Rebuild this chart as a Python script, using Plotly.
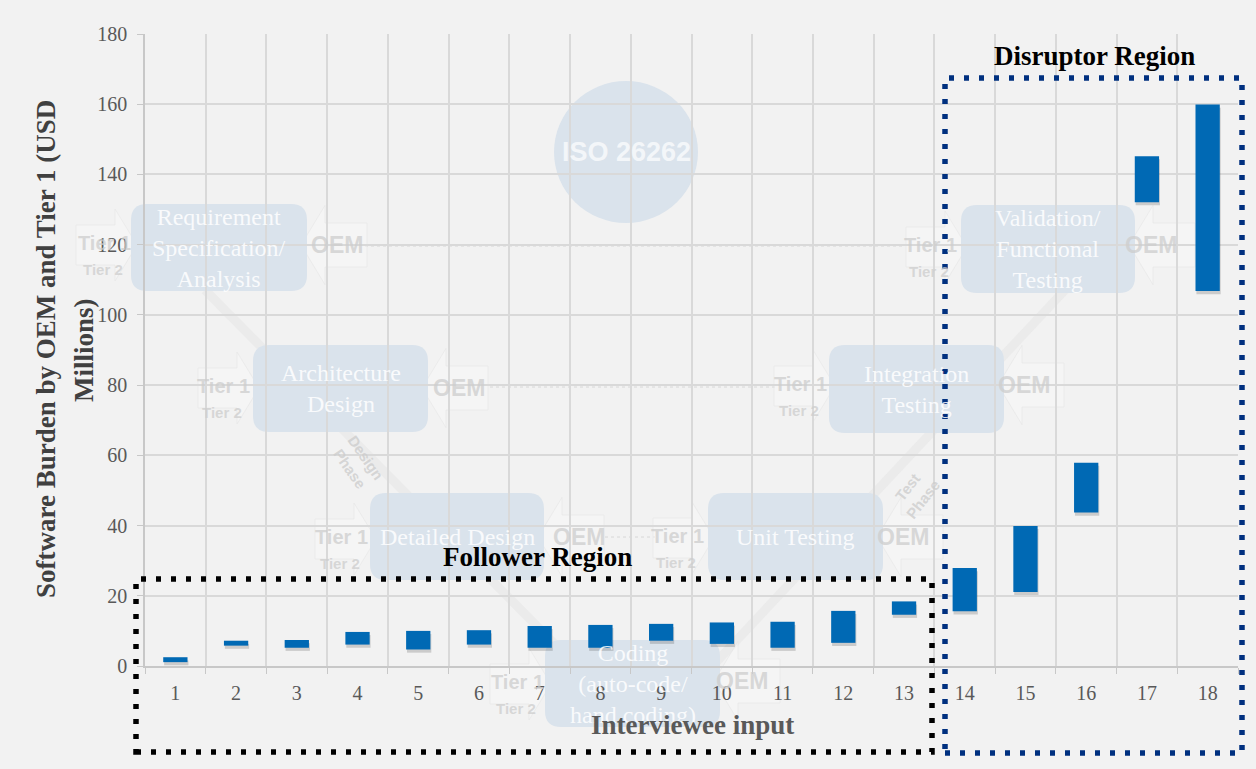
import plotly.graph_objects as go

# ---- data ----
interviewees = [str(i) for i in range(1, 19)]
burden_low = [1.1, 5.8, 5.2, 6.1, 4.7, 6.1, 5.2, 5.2, 7.2, 6.3, 5.2, 6.6, 14.6, 15.6, 21.1, 43.7, 132.1, 106.8]
burden_high = [2.5, 7.2, 7.4, 9.7, 10.0, 10.2, 11.4, 11.7, 12.0, 12.4, 12.6, 15.7, 18.4, 27.9, 39.9, 57.9, 145.2, 159.9]
y_ticks = list(range(0, 181, 20))

W, H = 1256, 769
ML, MR, MT, MB = 145, 18, 34, 103
PW, PH = W - ML - MR, H - MT - MB


def PX(x):
    return (x - ML) / PW


def PY(y):
    return (H - MB - y) / PH


BG = "#F2F2F2"
BOX = "rgb(218,227,236)"
FAINT = "rgba(205,205,205,0.75)"
SERIF = "Liberation Serif, Times New Roman, serif"
SANS = "Liberation Sans, Arial, sans-serif"

heights = [h - l for l, h in zip(burden_low, burden_high)]
shadow_base = [l - 0.9 for l in burden_low]

fig = go.Figure()
fig.add_trace(go.Bar(x=interviewees, y=heights, base=shadow_base, width=0.4, offset=-0.185,
                     marker=dict(color="rgba(0,0,0,0.16)", line=dict(width=0)),
                     hoverinfo="skip", showlegend=False))
fig.add_trace(go.Bar(x=interviewees, y=heights, base=burden_low, width=0.4, offset=-0.2,
                     marker=dict(color="#0069B4", line=dict(width=0)),
                     showlegend=False))

shapes = []
annots = []


def rrect(x0, y0, x1, y1, r, fill):
    rx, ry = r / PW, r / PH
    a, b, c, d = PX(x0), PY(y1), PX(x1), PY(y0)
    p = (f"M {a+rx},{d} L {c-rx},{d} Q {c},{d} {c},{d-ry} L {c},{b+ry} Q {c},{b} {c-rx},{b} "
         f"L {a+rx},{b} Q {a},{b} {a},{b+ry} L {a},{d-ry} Q {a},{d} {a+rx},{d} Z")
    shapes.append(dict(type="path", path=p, xref="paper", yref="paper", fillcolor=fill,
                       line=dict(width=0), layer="below"))


def arrow(x_tail, x_tip, yc, half, head, fill, direction=1):
    xb = x_tip - direction * head
    pts = [(x_tail, yc - half), (xb, yc - half), (xb, yc - half * 1.8), (x_tip, yc),
           (xb, yc + half * 1.8), (xb, yc + half), (x_tail, yc + half)]
    p = "M " + " L ".join(f"{PX(x)},{PY(y)}" for x, y in pts) + " Z"
    shapes.append(dict(type="path", path=p, xref="paper", yref="paper", fillcolor=fill,
                       line=dict(width=1, color="rgba(228,228,228,0.5)"), layer="below"))


def txt(x, y, s, size, color, family=SERIF, bold=False, angle=0):
    if bold:
        s = "<b>" + s + "</b>"
    annots.append(dict(x=PX(x), y=PY(y), xref="paper", yref="paper", text=s, showarrow=False,
                       xanchor="center", yanchor="middle", textangle=angle,
                       font=dict(family=family, size=size, color=color)))


# V-model arms (faint)
for (xa, ya, xb, yb) in [(205, 290, 600, 690), (690, 690, 1065, 290)]:
    shapes.append(dict(type="line", xref="paper", yref="paper", x0=PX(xa), y0=PY(ya), x1=PX(xb), y1=PY(yb),
                       line=dict(color="rgba(230,230,230,0.6)", width=9), layer="below"))
# dotted connectors
for (xa, xb, yy) in [(365, 905, 246), (490, 775, 387), (605, 655, 537)]:
    shapes.append(dict(type="line", xref="paper", yref="paper", x0=PX(xa), y0=PY(yy), x1=PX(xb), y1=PY(yy),
                       line=dict(color="rgba(205,205,205,0.7)", width=1, dash="dot"), layer="below"))

# circle
shapes.append(dict(type="circle", xref="paper", yref="paper", x0=PX(554), x1=PX(698), y0=PY(223), y1=PY(81),
                   fillcolor=BOX, line=dict(width=0), layer="below"))
txt(626, 152, "ISO 26262", 27, "rgba(255,255,255,0.7)", SANS, True)

boxes = [
    (131, 204, 307, 291, "Requirement<br>Specification/<br>Analysis", (104, 243), (337, 245)),
    (253, 345, 428, 432, "Architecture<br>Design", (223, 386), (459, 388)),
    (370, 493, 544, 580, "Detailed Design", (341, 537), (579, 537)),
    (545, 640, 720, 727, "Coding<br>(auto-code/<br>hand coding)", (517, 682), (742, 681)),
    (708, 493, 883, 580, "Unit Testing", (677, 536), (903, 537)),
    (829, 345, 1004, 433, "Integration<br>Testing", (800, 384), (1024, 385)),
    (961, 205, 1135, 293, "Validation/<br>Functional<br>Testing", (930, 245), (1151, 245)),
]
for (x0, y0, x1, y1, label, tier, oem) in boxes:
    yc = (y0 + y1) / 2
    arrow(x0 - 55, x0 + 6, tier[1] + 2, 20, 22, "rgba(250,250,250,0.4)", 1)
    arrow(x1 + 60, x1 - 6, oem[1], 22, 24, "rgba(250,250,250,0.4)", -1)
    rrect(x0, y0, x1, y1, 16, BOX)
    txt((x0 + x1) / 2, yc, label, 24, "rgba(255,255,255,0.85)", SERIF)
    txt(tier[0], tier[1], "Tier 1", 20, FAINT, SANS, True)
    txt(tier[0] - 1, tier[1] + 26, "Tier 2", 15, FAINT, SANS, True)
    txt(oem[0], oem[1], "OEM", 23, FAINT, SANS, True)

txt(358, 463, "Design<br>Phase", 15, "rgba(205,205,205,0.8)", SANS, True, 55)
txt(915, 493, "Test<br>Phase", 15, "rgba(205,205,205,0.8)", SANS, True, -52)

# region boxes
shapes.append(dict(type="rect", xref="paper", yref="paper", x0=PX(136), x1=PX(932), y0=PY(752), y1=PY(579),
                   line=dict(color="black", width=5.5, dash="5px,10px"), fillcolor="rgba(0,0,0,0)", layer="above"))
shapes.append(dict(type="rect", xref="paper", yref="paper", x0=PX(945), x1=PX(1242), y0=PY(753), y1=PY(78),
                   line=dict(color="#00307F", width=5.5, dash="5px,10px"), fillcolor="rgba(0,0,0,0)", layer="above"))

txt(537, 557, "Follower Region", 27, "black", SERIF, True)
txt(1094, 56, "Disruptor Region", 27, "black", SERIF, True)
txt(692, 725, "Interviewee input", 27, "#595959", SERIF, True)
txt(46, 349, "Software Burden by OEM and Tier 1 (USD", 27, "#404040", SERIF, True, -90)
txt(84, 350, "Millions)", 27, "#404040", SERIF, True, -90)

fig.update_layout(
    width=W, height=H,
    margin=dict(l=ML, r=MR, t=MT, b=MB, pad=0),
    paper_bgcolor=BG, plot_bgcolor="rgba(0,0,0,0)",
    barmode="overlay", showlegend=False,
    shapes=shapes, annotations=annots,
    font=dict(family=SERIF, size=20, color="#595959"),
)
fig.update_xaxes(type="category", tickson="boundaries", ticks="outside", ticklen=6, tickcolor="#C8C8C8",
                 showgrid=True, gridcolor="#D9D9D9", gridwidth=1.5,
                 showline=True, linecolor="#C8C8C8", linewidth=1.5,
                 tickfont=dict(family=SERIF, size=20, color="#595959"), ticklabelstandoff=8,
                 range=[-0.5, 17.5])
fig.update_yaxes(range=[0, 180], tickvals=y_ticks, ticks="outside", ticklen=6, tickcolor="#C8C8C8",
                 showgrid=True, gridcolor="#D9D9D9", gridwidth=1.5,
                 showline=True, linecolor="#C8C8C8", linewidth=1.5, zeroline=False,
                 tickfont=dict(family=SERIF, size=20, color="#595959"), ticklabelstandoff=6)

fig.write_html("out.html")
